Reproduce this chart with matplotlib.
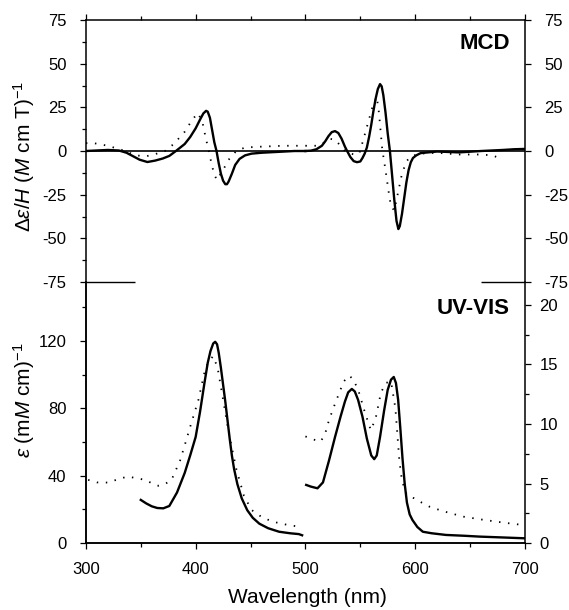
import numpy as np
import matplotlib
matplotlib.use('Agg')
import matplotlib.pyplot as plt
from matplotlib.ticker import MultipleLocator

plt.rcParams['font.family'] = ['Liberation Sans', 'DejaVu Sans']
plt.rcParams['mathtext.fontset'] = 'custom'
plt.rcParams['mathtext.rm'] = 'Liberation Sans'
plt.rcParams['mathtext.it'] = 'Liberation Sans:italic'

# MCD, solid trace
mcd_solid_x = [300, 310, 320, 330, 337, 343, 349, 356, 363, 370, 376, 382, 386, 390, 395, 400, 404, 407, 409.5,
               411, 413, 415, 417, 419, 421, 423, 425, 427, 428.5, 430, 433, 436, 440, 445, 451, 460, 475, 490, 500]
mcd_solid_y = [0, 0.3, 0.6, 0.3, -1, -3, -5, -6.3, -5.5, -4.3, -2.8, 0, 2, 4, 8, 13, 18, 21.5, 23,
               22.5, 19, 12, 5, 0, -7, -13, -17, -19, -19, -17.5, -13, -8, -4.5, -2.5, -1.5, -1, -0.5, 0, 0]
mcd_solid_x2 = [500, 505, 510, 515, 518, 521, 524, 527, 530, 533, 536, 538, 541, 544, 547, 550, 552, 554, 556,
                558, 560, 562, 564, 566, 568, 569.5, 571, 573, 575, 577, 579, 581, 583, 584.7, 586, 588, 590,
                592, 594, 596, 598, 601, 605, 620, 640, 660, 680, 690, 700]
mcd_solid_y2 = [0, 0.2, 1, 3, 5.5, 8.5, 10.8, 11.4, 10.3, 7, 2.5, 0, -3.5, -5.8, -6.4, -6, -4, -1.5, 2,
                8, 15, 23, 30, 35.5, 38.3, 37, 32, 22, 10, 0, -14, -28, -40, -44.7, -43, -36, -27,
                -18, -11, -6.5, -4, -2.5, -1.2, -0.3, -0.8, 0, 0.6, 1, 1.2]

# MCD, dotted trace
mcd_dot_x = [300, 308, 320, 336, 345, 355, 362, 372, 380, 390, 397, 402, 406, 409, 412, 415, 419, 424, 430, 437,
             445, 460, 480, 500]
mcd_dot_y = [4.5, 4.4, 3, 0, -2.5, -3, -2, 0, 4, 11, 18, 21.7, 17, 8, 0, -9, -16.6, -12, -5, 0,
             2, 2.5, 3, 3]
mcd_dot_x2 = [500, 510, 515, 522, 527, 532, 536, 541, 545, 549, 553, 557, 561, 565, 567, 570, 573, 576, 578, 581,
              584, 588, 592, 596, 605, 620, 640, 660, 670, 677]
mcd_dot_y2 = [3, 3, 4, 7, 6.5, 3, 0, -1.5, -2, -1.7, 7, 16, 25, 31, 22, 1, -11, -24, -31.8, -34,
              -25, -13, -6, -3, -1.5, -1, -2, -2, -2.5, -4]

# UV-VIS, solid trace (left axis units)
uv_solid_x = [350, 355, 360, 365, 370.5, 376, 383, 390, 395, 400, 404, 408, 411, 413.5, 416, 417.8, 419.5, 421,
              423, 425, 427, 429, 431, 433, 435, 438, 442, 447, 452, 458, 466, 476, 486, 494, 497]
uv_solid_y = [25.6, 23.5, 21.8, 20.8, 20.6, 22, 30, 41.6, 52, 63, 78, 95, 107, 114, 118.5, 119.5, 118, 113,
              104, 94, 84, 73, 62, 52, 44, 35, 26.5, 19.5, 15, 11.5, 8.8, 6.7, 5.8, 5.3, 4.6]
uv_solid_x2 = [500.7, 505, 511, 516, 521.5, 527, 532, 536, 539, 542.3, 545, 548, 552, 556, 560, 562.7, 565, 568,
               571.8, 575, 578, 580.5, 582.5, 584.5, 586.5, 588.5, 590.5, 592.5, 595, 597.5, 602, 607, 615, 628,
               645, 659, 680, 700]
uv_solid_y2 = [34.5, 33.5, 32.5, 36, 49, 63, 75, 84, 89.5, 91.5, 90, 85, 75, 62, 52, 49.8, 52, 63,
               79, 91, 97, 98.6, 95, 85, 68, 50, 35, 24, 17, 13.7, 9.5, 6.7, 5.8, 4.8,
               4.3, 3.8, 3.3, 2.8]

# UV-VIS, dotted trace
uv_dot_x = [302, 310, 320, 330, 338, 346, 354, 360, 366, 372, 378, 385.8, 390, 395, 402.5, 408.6, 412, 416,
            420, 424, 430, 437, 444, 451, 460, 470, 482, 494, 497]
uv_dot_y = [37.5, 36, 35.9, 38, 39.5, 38.5, 37.5, 35.5, 34, 35, 37.5, 49, 58, 69, 85, 103, 108, 111,
            104, 89, 66, 44, 28, 19.6, 15.5, 12.7, 11, 9.7, 9.7]
uv_dot_x2 = [500, 507, 514, 518, 521.5, 526, 530.7, 535, 539.8, 544, 549, 554, 559.6, 564, 568.7, 573, 578,
             582, 585.6, 588, 591.6, 595, 599, 606, 613, 625, 643.5, 660, 674, 688, 698.5]
uv_dot_y2 = [63.3, 61.5, 60.3, 65, 73, 81, 89, 96, 99.4, 97, 89, 78, 67, 74, 89, 95, 96,
             80, 49, 37, 29.7, 27.5, 26.6, 24, 21.6, 19, 15.7, 14, 12.7, 11.5, 10.7]

fig = plt.figure(figsize=(5.69, 6.10), dpi=100)
ax1 = fig.add_axes([0.151, 0.5377, 0.7715, 0.4295])
ax2 = fig.add_axes([0.151, 0.1098, 0.7715, 0.4279])
ax2.patch.set_visible(False)

dot = (0, (0.8, 4.2))
tsize = 12

# top panel: MCD
ax1.plot(mcd_solid_x, mcd_solid_y, color='black', lw=1.7)
ax1.plot(mcd_solid_x2, mcd_solid_y2, color='black', lw=1.7)
ax1.plot(mcd_dot_x, mcd_dot_y, color='black', lw=1.3, linestyle=dot)
ax1.plot(mcd_dot_x2, mcd_dot_y2, color='black', lw=1.3, linestyle=dot)
ax1.axhline(0, color='black', lw=1.2)
ax1.hlines(-75, 300, 345, color='black', lw=1.0, clip_on=False)
ax1.hlines(-75, 660, 700, color='black', lw=1.0, clip_on=False)
ax1.set_xlim(300, 700)
ax1.set_ylim(-75, 75)
ax1.spines['bottom'].set_visible(False)
ax1.xaxis.set_ticks_position('top')
ax1.xaxis.set_major_locator(MultipleLocator(100))
ax1.xaxis.set_minor_locator(MultipleLocator(50))
ax1.tick_params(axis='x', labeltop=False, labelbottom=False)
ax1.yaxis.set_major_locator(MultipleLocator(25))
ax1.yaxis.set_minor_locator(MultipleLocator(12.5))
ax1.set_yticks([-75, -50, -25, 0, 25, 50, 75])
ax1.set_yticklabels(['-75', '-50', '-25', '0', '25', '50', '75'])
ax1.tick_params(axis='y', left=True, right=True, labelleft=True, labelright=True)
ax1.tick_params(which='both', direction='out', labelsize=tsize, width=0.9)
ax1.tick_params(which='major', length=4)
ax1.tick_params(which='minor', length=3)
ax1.tick_params(axis='y', which='major', left=True, pad=10)
ax1.set_ylabel(r'$\mathit{\Delta\varepsilon/H}$ ($\mathit{M}$ cm T)$^{-1}$', fontsize=15)
ax1.yaxis.set_label_coords(-0.112, 0.48)
ax1.text(0.966, 0.912, 'MCD', transform=ax1.transAxes, ha='right', va='center',
         fontsize=16, fontweight='bold')

# bottom panel: UV-VIS
ax2.plot(uv_solid_x, uv_solid_y, color='black', lw=1.7)
ax2.plot(uv_solid_x2, uv_solid_y2, color='black', lw=1.7)
ax2.plot(uv_dot_x, uv_dot_y, color='black', lw=1.3, linestyle=dot)
ax2.plot(uv_dot_x2, uv_dot_y2, color='black', lw=1.3, linestyle=dot)
ax2.set_xlim(300, 700)
ax2.set_ylim(0, 155)
ax2.spines['top'].set_visible(False)
ax2.spines['right'].set_visible(False)
ax2.xaxis.set_major_locator(MultipleLocator(100))
ax2.xaxis.set_minor_locator(MultipleLocator(50))
ax2.yaxis.set_major_locator(MultipleLocator(40))
ax2.yaxis.set_minor_locator(MultipleLocator(20))
ax2.tick_params(which='both', direction='out', labelsize=tsize, width=0.9, top=False)
ax2.tick_params(which='major', length=4)
ax2.tick_params(which='minor', length=3)
ax2.tick_params(axis='y', which='major', pad=10)
ax2.tick_params(axis='x', which='major', pad=10)
ax2.set_ylabel(r'$\varepsilon$ (m$\mathit{M}$ cm)$^{-1}$', fontsize=15)
ax2.yaxis.set_label_coords(-0.112, 0.545)
ax2.set_xlabel('Wavelength (nm)', fontsize=15)
ax2.xaxis.set_label_coords(0.505, -0.172)
ax2.text(0.966, 0.897, 'UV-VIS', transform=ax2.transAxes, ha='right', va='center',
         fontsize=16, fontweight='bold')

ax3 = ax2.twinx()
ax3.patch.set_visible(False)
ax3.set_ylim(0, 21.93)
ax3.spines['top'].set_visible(False)
ax3.yaxis.set_major_locator(MultipleLocator(5))
ax3.yaxis.set_minor_locator(MultipleLocator(2.5))
ax3.tick_params(which='both', direction='out', labelsize=tsize, width=0.9)
ax3.tick_params(which='major', length=4, pad=6.5)
ax3.tick_params(which='minor', length=3)

for ax in (ax1, ax2, ax3):
    for s in ax.spines.values():
        s.set_linewidth(1.1)

plt.savefig('out.png', dpi=100)
